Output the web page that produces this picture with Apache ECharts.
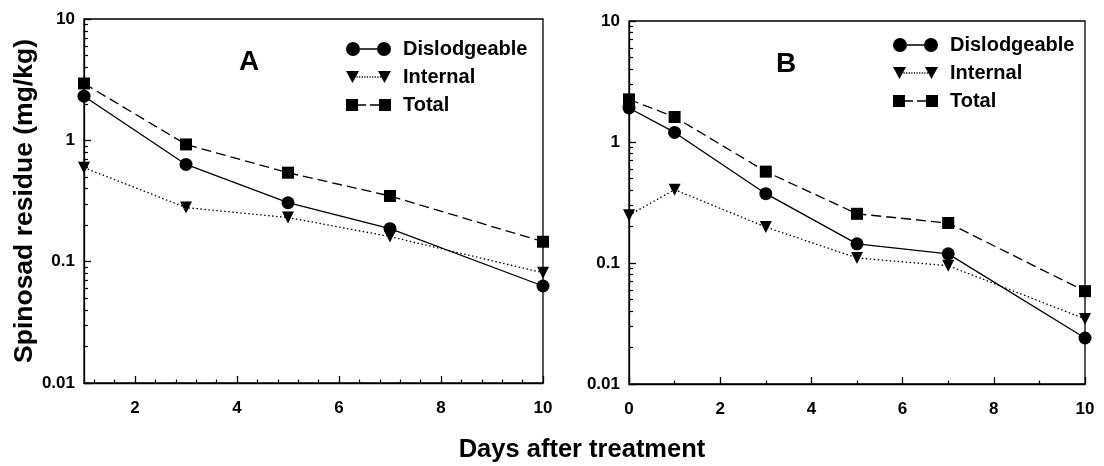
<!DOCTYPE html>
<html>
<head>
<meta charset="utf-8">
<script src="https://cdn.jsdelivr.net/npm/echarts@6/dist/echarts.min.js"></script>
<style>
html,body{margin:0;padding:0;background:#fff;}
#chart{width:1104px;height:466px;}
</style>
</head>
<body>
<div id="chart"></div>
<script>
// ---- data ----
const daysA = [1, 3, 5, 7, 10];
const dislodgeableA = [2.31, 0.633, 0.306, 0.187, 0.063];
const internalA = [0.595, 0.279, 0.231, 0.161, 0.081];
const totalA = [2.94, 0.925, 0.541, 0.348, 0.146];

const daysB = [0, 1, 3, 5, 7, 10];
const dislodgeableB = [1.91, 1.20, 0.374, 0.144, 0.119, 0.024];
const internalB = [0.248, 0.404, 0.198, 0.110, 0.095, 0.0345];
const totalB = [2.25, 1.61, 0.569, 0.255, 0.214, 0.0585];

const seriesNames = ['Dislodgeable', 'Internal', 'Total'];
const xTicksA = [2, 4, 6, 8, 10];
const xMinorA = [1.2, 1.6, 2.4, 2.8, 3.2, 3.6, 4.4, 4.8, 5.2, 5.6, 6.4, 6.8, 7.2, 7.6, 8.4, 8.8, 9.2, 9.6];
const xTicksB = [0, 2, 4, 6, 8, 10];
const xMinorB = [1, 3, 5, 7, 9];
const yTicks = [0.01, 0.1, 1, 10];
const yMinor = [0.02,0.03,0.04,0.05,0.06,0.07,0.08,0.09,0.2,0.3,0.4,0.5,0.6,0.7,0.8,0.9,2,3,4,5,6,7,8,9];
const panelLabels = ['A', 'B'];
const xTitle = 'Days after treatment';
const yTitle = 'Spinosad residue (mg/kg)';

// ---- chart ----
const FONT = 'Liberation Sans, Arial, sans-serif';
const chart = echarts.init(document.getElementById('chart'));

const pair = (xs, ys) => xs.map((x, i) => [x, ys[i]]);

// legend icons: marker - line - marker (drawn as filled paths)
function seg(x0, x1) { return `M${x0},6.35 L${x1},6.35 L${x1},7.65 L${x0},7.65 Z `; }
let dots = '';
for (let x = 10.5; x < 34; x += 2.6) dots += seg(x.toFixed(2), (x + 1.2).toFixed(2));
const iconDis = 'path://M0,7 A7,7 0 1,1 14,7 A7,7 0 1,1 0,7 Z M31,7 A7,7 0 1,1 45,7 A7,7 0 1,1 31,7 Z ' + seg(14, 31);
const iconInt = 'path://M0,1 L13,1 L6.5,13 Z M32,1 L45,1 L38.5,13 Z ' + dots;
const iconTot = 'path://M0,1 L12,1 L12,13 L0,13 Z M33,1 L45,1 L45,13 L33,13 Z ' + seg(12, 20) + seg(24, 33);
const legendIcons = [iconDis, iconInt, iconTot];

const grids = [
  {left: 84, top: 19, width: 459, height: 364},
  {left: 629, top: 21, width: 456, height: 363}
];

function xAxes(gi, min, ticks, minor) {
  return [
    {
      gridIndex: gi, type: 'value', min: min, max: 10, position: 'bottom',
      axisLine: {show: true, onZero: false, lineStyle: {color: '#000', width: 1.3}},
      axisTick: {show: true, inside: true, length: 7, customValues: ticks, lineStyle: {color: '#000', width: 1.3}},
      axisLabel: {show: true, customValues: ticks, margin: 17, color: '#000', fontFamily: FONT, fontWeight: 'bold', fontSize: 17},
      splitLine: {show: false}
    },
    {
      gridIndex: gi, type: 'value', min: min, max: 10, position: 'bottom', offset: 0,
      axisLine: {show: false, onZero: false},
      axisTick: {show: true, inside: true, length: 3.5, customValues: minor, lineStyle: {color: '#000', width: 1.2}},
      axisLabel: {show: false},
      splitLine: {show: false}
    }
  ];
}

function yAxes(gi, withName) {
  const major = {
    gridIndex: gi, type: 'log', logBase: 10, min: 0.01, max: 10, position: 'left',
    axisLine: {show: true, onZero: false, lineStyle: {color: '#000', width: 1.3}},
    axisTick: {show: true, inside: true, length: 7, customValues: yTicks, lineStyle: {color: '#000', width: 1.3}},
    axisLabel: {show: true, customValues: yTicks, margin: 9, color: '#000', fontFamily: FONT, fontWeight: 'bold', fontSize: 17,
      formatter: v => String(+v.toPrecision(3))},
    splitLine: {show: false}
  };
  if (withName) {
    major.name = yTitle;
    major.nameLocation = 'middle';
    major.nameGap = 46;
    major.nameTextStyle = {color: '#000', fontFamily: FONT, fontWeight: 'bold', fontSize: 26.5};
  }
  const minor = {
    gridIndex: gi, type: 'log', logBase: 10, min: 0.01, max: 10, position: 'left', offset: 0,
    axisLine: {show: false, onZero: false},
    axisTick: {show: true, inside: true, length: 4, customValues: yMinor, lineStyle: {color: '#000', width: 1.2}},
    axisLabel: {show: false},
    splitLine: {show: false}
  };
  return [major, minor];
}

function makeSeries(gi, xs, dis, intl, tot) {
  const base = {type: 'line', xAxisIndex: gi * 2, yAxisIndex: gi * 2, color: '#000', z: 3, silent: true};
  return [
    Object.assign({}, base, {
      name: seriesNames[0], data: pair(xs, dis), symbol: 'circle', symbolSize: 13,
      itemStyle: {color: '#000', borderWidth: 0}, lineStyle: {color: '#000', width: 1.3, type: 'solid'}
    }),
    Object.assign({}, base, {
      name: seriesNames[1], data: pair(xs, intl), symbol: 'triangle', symbolSize: 12, symbolRotate: 180,
      itemStyle: {color: '#000', borderWidth: 0}, lineStyle: {color: '#000', width: 1.3, type: [1.5, 2.5]}
    }),
    Object.assign({}, base, {
      name: seriesNames[2], data: pair(xs, tot), symbol: 'rect', symbolSize: 12,
      itemStyle: {color: '#000', borderWidth: 0}, lineStyle: {color: '#000', width: 1.3, type: [10, 5]}
    })
  ];
}

const legendCommon = {
  orient: 'vertical', itemWidth: 45, itemHeight: 14, itemGap: 8,
  selectedMode: false, symbolKeepAspect: true, symbolRotate: 0,
  itemStyle: {color: '#000', borderWidth: 0},
  textStyle: {color: '#000', fontFamily: FONT, fontWeight: 'bold', fontSize: 20, lineHeight: 20, padding: [0, 0, 0, 7]},
  data: seriesNames.map((n, i) => ({name: n, icon: legendIcons[i]}))
};

const option = {
  animation: false,
  backgroundColor: '#fff',
  grid: grids.map(g => Object.assign({show: true, borderColor: '#000', borderWidth: 1.3, backgroundColor: 'transparent', containLabel: false}, g)),
  xAxis: [].concat(xAxes(0, 1, xTicksA, xMinorA), xAxes(1, 0, xTicksB, xMinorB)),
  yAxis: [].concat(yAxes(0, true), yAxes(1, false)),
  legend: [
    Object.assign({}, legendCommon, {left: 341, top: 34}),
    Object.assign({}, legendCommon, {left: 888, top: 30})
  ],
  series: [].concat(
    makeSeries(0, daysA, dislodgeableA, internalA, totalA),
    makeSeries(1, daysB, dislodgeableB, internalB, totalB)
  ),
  graphic: [
    {type: 'text', x: 249, y: 62, style: {text: panelLabels[0], fill: '#000', font: 'bold 28px ' + FONT, textAlign: 'center', textVerticalAlign: 'middle'}},
    {type: 'text', x: 786, y: 64, style: {text: panelLabels[1], fill: '#000', font: 'bold 28px ' + FONT, textAlign: 'center', textVerticalAlign: 'middle'}},
    {type: 'text', x: 582, y: 450, style: {text: xTitle, fill: '#000', font: 'bold 25.5px ' + FONT, textAlign: 'center', textVerticalAlign: 'middle'}}
  ]
};
chart.setOption(option);
</script>
</body>
</html>
